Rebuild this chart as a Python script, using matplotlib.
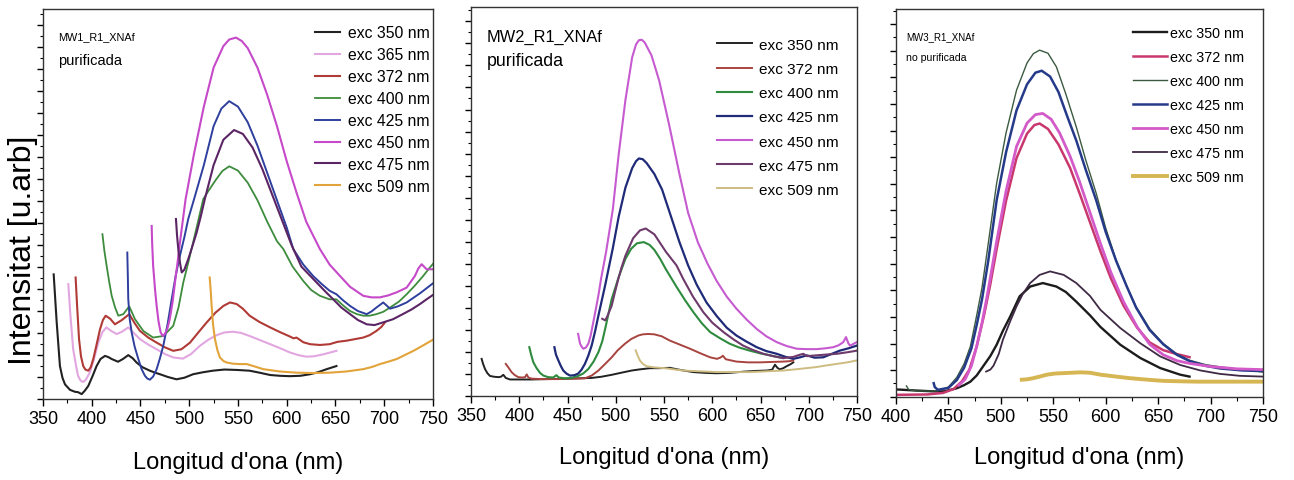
import matplotlib
matplotlib.use('Agg')
import matplotlib.pyplot as plt
from matplotlib.ticker import MultipleLocator

plt.rcParams['font.family'] = ['Liberation Sans', 'DejaVu Sans']

# --- MW1 (purificada) ---
p1_wl_350 = [361, 364, 367.4, 370, 372.6, 377.7, 382.8, 386, 389.7, 393, 396.5, 401, 405, 409, 413.6, 417, 420.5, 427, 432, 437.5, 442, 446, 452, 459.7, 465, 470, 478, 487, 495, 504, 514, 524, 536, 548.6, 562, 572, 583, 593, 603, 614, 624, 632, 641, 651]
p1_int_350 = [32, 20, 8.5, 5.5, 3.8, 2.4, 1.9, 1.8, 1.3, 2.2, 3.4, 6, 8.5, 10.3, 11.1, 10.8, 10.3, 9.6, 10.3, 11.3, 10.5, 9.4, 8.2, 7.3, 6.8, 6.4, 5.7, 5.1, 5.5, 6.4, 6.9, 7.3, 7.6, 7.5, 7.3, 6.8, 6.2, 6.0, 5.9, 6.0, 6.4, 6.9, 7.7, 8.5]
p1_wl_365 = [376, 378, 381, 384, 386, 388.5, 391, 394, 398, 402, 406.7, 411, 415, 420, 425.6, 431, 437.5, 443, 449.5, 458, 466.6, 475, 483.6, 493.6, 502, 511, 520, 528, 536, 545, 553, 562, 572, 583, 593, 603, 612, 620, 628, 637.5, 645, 651]
p1_int_365 = [29.5, 22, 12.8, 8.5, 6, 4.8, 4.4, 5, 6.8, 10, 14.5, 17.2, 18.4, 17.5, 16.7, 17.3, 18.4, 17, 15.4, 14, 12.8, 11.6, 10.7, 10.4, 11.6, 13.7, 15.3, 16.4, 17.1, 17.3, 17, 16.2, 15.2, 14.1, 13.1, 12, 11.3, 10.9, 11, 11.5, 12, 12.4]
p1_wl_372 = [383.5, 385, 387, 389, 391.3, 393.5, 396.5, 399, 401.6, 405, 408.5, 411.5, 414.3, 419, 423.8, 431, 438.5, 444, 449.5, 458, 466.6, 475, 483.6, 492, 500.8, 509, 518, 527, 535, 541.8, 548.6, 555, 562, 572, 583, 593, 603, 607, 610, 613, 617, 624, 634, 644, 652, 661.5, 670, 678.5, 685, 692, 697, 700.8]
p1_int_372 = [31.2, 24, 15.4, 11, 8.5, 7.6, 7.3, 8.2, 10.3, 14, 17.9, 20.3, 21.4, 20.6, 19.2, 20.3, 21.8, 19.5, 17.5, 15.8, 14.5, 13.3, 12.4, 12.8, 14.5, 17, 19.7, 22.2, 23.9, 24.8, 24.4, 23.2, 21.4, 19.8, 18.4, 17.2, 16.1, 15.6, 15.8, 15.3, 14.6, 14.1, 13.9, 14.1, 14.7, 15, 15.4, 15.8, 16.4, 17.5, 18.5, 19.7]
p1_wl_400 = [411, 413, 415.3, 418, 420.5, 424, 427.3, 432.4, 438.5, 444.4, 452.9, 463, 473.4, 483.6, 489, 493.9, 499, 504, 509, 514.4, 520, 527.5, 534, 541, 550, 560, 570, 580, 590, 596.5, 606, 617, 625, 634, 644, 651, 658, 665, 672, 678.5, 685, 692, 699, 706, 715, 723, 731, 740, 746, 751]
p1_int_400 = [42.3, 38, 34.2, 30, 26.5, 23.5, 21.4, 21.8, 23.8, 20.5, 17.5, 15.8, 16.2, 18.8, 23.5, 29.9, 35, 40.2, 45.5, 51.3, 53.5, 56.3, 58.5, 59.7, 58.6, 55.5, 51, 45.5, 40.5, 38.5, 34, 30.3, 28, 26.5, 25.6, 25.6, 24, 22.6, 21.8, 21.4, 21.4, 21.8, 22.4, 23.5, 25, 26.9, 29, 31.6, 33.5, 35]
p1_wl_425 = [436.5, 437, 437.5, 439, 441, 444, 447.8, 451, 454.6, 457, 459.7, 463, 466.6, 470, 473.4, 478, 482, 486, 490.5, 495, 499, 505, 515, 525, 533, 541, 550, 560, 570, 580, 590, 600, 606.7, 617, 627, 636, 644, 651, 658, 665, 673, 682, 687, 692, 699, 706, 714, 723, 737, 751]
p1_int_425 = [37.6, 32, 25.6, 20.5, 17.1, 13.5, 10.3, 7.8, 6, 5.3, 5, 5.8, 7.7, 10.5, 13.7, 19.5, 25.6, 31.5, 36.8, 41.5, 46.2, 51.3, 60, 70, 74.5, 76.4, 75, 71, 65, 58, 51, 44, 38.5, 34.5, 31.6, 29.5, 27.8, 26.9, 25.3, 23.9, 22.6, 21.8, 22.5, 23.5, 24.8, 23.2, 23.8, 24.8, 27.2, 29.9]
p1_wl_450 = [461.5, 462, 463, 465, 466.6, 468.5, 470.7, 473, 475, 477.5, 480, 483, 485.4, 488, 490.5, 496.3, 505, 515, 525, 535, 541, 548, 554, 560, 570, 580, 590, 600, 610, 620, 634, 644, 654.6, 665, 678.5, 687, 695.6, 704, 712.8, 723, 731.5, 735, 738.4, 743.5, 751]
p1_int_450 = [44.4, 40, 34.2, 28, 23.9, 20, 17.1, 16.2, 16.7, 18, 20.5, 25, 29.9, 35, 40.2, 51.3, 63, 75, 85, 90.5, 92.2, 92.7, 91.8, 90, 85, 78, 70, 61, 53, 45.5, 38.5, 34.5, 31.6, 28.8, 26.5, 26.1, 26.1, 26.6, 27.4, 28.6, 31.6, 33.5, 34.6, 33.3, 33.3]
p1_wl_475 = [486.4, 487.5, 488.8, 490.5, 492.3, 495, 499, 503, 507.6, 512, 516, 525, 535, 546, 555, 565, 575, 585, 595, 605, 615, 630.7, 640, 647.7, 656, 665, 673, 682, 690, 699, 709, 719, 728, 736.7, 744, 751]
p1_int_475 = [46.2, 42, 38.5, 35, 32.5, 33.2, 35.9, 39, 42.7, 47, 51.3, 60, 66.5, 69, 68, 64.5, 59, 52.5, 46, 39.5, 34, 29.9, 27.5, 25.6, 23.5, 21.8, 20.3, 19.2, 19, 19.7, 20.5, 21.8, 23, 24.4, 25.7, 26.9]
p1_wl_509 = [521, 522, 523, 524.5, 526.4, 529, 531.5, 535, 538.4, 545, 552, 559, 567, 576, 593, 610, 627, 644, 661, 678.5, 688, 695.6, 704, 712.8, 721, 730, 740, 751]
p1_int_509 = [31.2, 28, 23.9, 19, 15.4, 12.5, 10.7, 9.8, 9.4, 9.1, 9, 9, 8.4, 7.7, 7.1, 6.8, 6.7, 6.8, 7.1, 7.7, 8.3, 9, 9.6, 10.3, 11.3, 12.4, 13.8, 15.4]

# --- MW2 (purificada) ---
p2_wl_350 = [361, 362.5, 364.5, 367, 369.7, 374, 378.3, 381, 383.5, 386, 390.4, 400, 413, 430, 447.4, 462, 475, 485, 495.8, 505, 516.5, 525, 535.5, 545, 556, 568, 580.4, 592, 604.6, 618, 632, 645, 656.4, 662, 665, 667.5, 670, 673.5, 677, 681, 684]
p2_int_350 = [9.5, 8.2, 6.9, 5.8, 5.1, 4.9, 4.8, 4.9, 5.4, 4.6, 4.2, 4.2, 4.2, 4.3, 4.4, 4.5, 4.6, 4.9, 5.4, 5.9, 6.5, 6.8, 7.1, 7.1, 7.2, 6.6, 6.1, 5.9, 5.8, 5.9, 6.2, 6.4, 6.5, 6.7, 8, 7.2, 6.8, 7.1, 7.6, 8.1, 8.6]
p2_wl_372 = [386, 389, 392, 395.5, 399, 403, 406, 407.7, 409.5, 413, 425, 440, 455, 468, 475, 482, 489, 495.8, 502, 509.6, 516, 523.4, 528, 533.7, 540, 547.6, 556, 566, 577, 587, 597.7, 605, 609, 611, 614, 625, 637, 649.5, 661, 673.6, 680, 684]
p2_int_372 = [8.2, 7.2, 6.1, 5.3, 4.8, 4.7, 4.8, 5.5, 4.7, 4.4, 4.3, 4.3, 4.4, 4.5, 5.2, 6.5, 8.2, 9.9, 11.7, 13.4, 14.6, 15.5, 15.8, 15.9, 15.8, 15.3, 14.2, 13.2, 12.1, 11, 9.9, 9.5, 9.9, 10.3, 9.4, 8.8, 8.6, 8.6, 8.7, 8.8, 8.9, 9.1]
p2_wl_400 = [410.4, 412.5, 414.6, 418, 421.5, 425, 430, 435, 438.5, 441, 447.4, 454, 461, 466, 471.6, 477, 482, 486, 489, 495.8, 503, 510, 516, 522, 529, 535, 540, 546, 552, 563, 572, 580.4, 589, 597.7, 608, 618, 628, 639, 650, 660, 667, 673.6]
p2_int_400 = [12.5, 10.4, 8.6, 7.1, 5.9, 5.2, 4.8, 4.7, 5.3, 4.7, 4.5, 4.6, 5.1, 5.7, 6.9, 8.8, 11.2, 14, 17.2, 24.9, 30.5, 35.2, 37.8, 39.2, 39.5, 38.8, 37.5, 35.2, 32.5, 28, 24.5, 21.5, 18.7, 16.4, 14.8, 13.4, 12.4, 11.6, 10.9, 10.4, 10, 9.7]
p2_wl_425 = [436.4, 438, 440.5, 443, 445.6, 449, 452.6, 457, 461, 464.5, 468, 471.5, 475, 478.5, 482, 485.5, 489, 497, 503, 510, 517, 521, 524, 528, 532, 540, 548, 556, 566, 575, 584, 594, 604.6, 615, 625, 635, 646, 656, 666.8, 676, 684, 691, 698, 706, 715, 723, 732, 741, 749.7]
p2_int_425 = [12.5, 10.6, 9.1, 7.7, 6.5, 5.7, 5.2, 5.3, 5.7, 6.7, 8.2, 10.3, 12.9, 16.5, 20.6, 24.5, 28.4, 38, 46, 53.5, 58.5, 60.3, 61, 60.8, 59.8, 57, 53, 47, 39.5, 33.5, 28.5, 24, 20.5, 17.5, 15.5, 14, 12.5, 11.5, 10.8, 10, 9.5, 9.9, 10.4, 9.8, 9.9, 10.7, 11.6, 12.2, 12.9]
p2_wl_450 = [461, 462, 463, 465, 466.4, 469, 471.6, 474, 476.7, 479.5, 482, 484.7, 490, 497, 503, 510, 517, 521, 524, 527, 530, 537, 545, 555, 566, 575, 585, 595, 604.6, 615, 625, 636, 646, 656, 666.8, 677, 687.5, 698, 708, 717, 725.4, 731, 735.8, 738.6, 741, 742.7, 746, 749.7]
p2_int_450 = [15.9, 14.6, 13.4, 12.5, 12.1, 12.4, 13.4, 15.5, 18.9, 22.5, 25.8, 30, 37, 48, 62, 76, 87, 90.3, 91.4, 91.5, 90.8, 87.5, 81, 70, 57, 47, 39.5, 34, 29.5, 25.5, 22.4, 19.5, 17.2, 15.3, 13.8, 12.8, 12.1, 12, 12, 12.2, 12.5, 13, 13.8, 15.1, 13.5, 12.9, 13.3, 13.8]
p2_wl_475 = [486, 487.5, 489, 491, 493, 495.8, 499, 502.6, 506, 510, 518, 525, 531, 540, 552, 563, 570, 580, 590.7, 600, 611.5, 622, 632, 642, 653, 663, 673.6, 684, 690, 694.4, 698, 708, 718, 729, 740, 749.7]
p2_int_475 = [19.8, 19.6, 19.4, 20.3, 21.5, 23.2, 26.5, 30, 33, 36, 40.5, 42.5, 43, 41.5, 37, 33.5, 30, 25.5, 21.5, 18.8, 16.4, 14.5, 12.9, 11.8, 10.8, 10.2, 9.7, 10, 10.5, 10.8, 10.2, 10.4, 10.6, 10.8, 11.2, 11.6]
p2_wl_509 = [520.6, 522, 523.5, 525, 528, 532, 540, 551, 560, 570, 587, 604.6, 622, 639, 656, 673.6, 690, 708, 718, 729, 740, 749.7]
p2_int_509 = [11.7, 10.8, 9.9, 9.1, 8.2, 7.6, 7.3, 7.1, 6.8, 6.5, 6.3, 6.1, 6.1, 6.1, 6.3, 6.5, 6.9, 7.4, 7.8, 8.2, 8.6, 9.1]

# --- MW3 (no purificada) ---
p3_wl_350 = [400, 420, 436, 446, 458, 465, 471, 477, 483, 490, 496, 502, 509, 518, 528, 540, 553, 562, 572, 585, 595, 614, 633, 652, 671, 680]
p3_int_350 = [1.9, 1.6, 1.4, 1.4, 2.2, 3, 3.9, 5.5, 7.8, 10.5, 13.4, 17, 20.7, 25.9, 28.4, 29.3, 28.4, 27, 24.5, 21, 18, 13.4, 10, 7.4, 5.7, 5.2]
p3_wl_372 = [400, 430, 445, 455, 463, 470, 477, 484, 490, 496, 505, 515, 525, 532, 537, 545, 555, 566, 575, 585, 595, 605, 617, 630, 642, 655, 668, 680]
p3_int_372 = [0.5, 0.6, 1, 2, 4, 7, 13, 21, 29, 38, 50.5, 61.5, 67.8, 70, 70.4, 69, 65, 59, 52.5, 45, 37.5, 30.5, 23.5, 17.8, 14, 12, 11, 10.2]
p3_wl_400 = [410, 412, 415, 420, 440, 450, 458, 465, 471, 477, 482, 487, 496, 505, 515, 525, 531, 537, 545, 553, 562, 572, 581, 591, 600, 610, 620, 629, 642, 655, 668, 680, 695, 709, 730, 750]
p3_int_400 = [2.8, 1.9, 1.7, 1.5, 1.5, 2.5, 5, 8.5, 13, 21, 28, 37.5, 55, 68, 79, 86, 88.4, 89.3, 88.5, 85, 78, 69.5, 61, 52.4, 43.5, 35.2, 28.5, 23.2, 17.5, 13.7, 11, 9.4, 8.3, 7.7, 7, 6.4]
p3_wl_425 = [436, 437, 440, 450, 458, 465, 472, 477, 482, 488, 496, 505, 515, 525, 533, 539, 547, 555, 563, 572, 581, 591, 600, 610, 620, 629, 642, 655, 668, 680, 695, 709, 730, 750]
p3_int_425 = [3.5, 2.5, 1.8, 2.3, 4.3, 7.5, 12.5, 18.5, 25, 35, 50.6, 63, 73.8, 80.5, 83.5, 84, 82.5, 78.5, 72.5, 66, 58.5, 50.6, 42.5, 35, 28.5, 23, 17.2, 13.5, 10.8, 9.2, 8, 7.3, 6.8, 6.6]
p3_wl_450 = [460, 466, 472, 477, 482, 487, 496, 505, 515, 525, 533, 540, 548, 556, 566, 575, 585, 595, 605, 617, 630, 642, 655, 668, 680, 700, 725, 750]
p3_int_450 = [3, 4.5, 8, 13, 19, 26, 40, 53, 64.5, 70.5, 72.7, 73, 71.5, 68, 62, 55.5, 47.5, 39.5, 32, 24.5, 18, 13.5, 10.8, 9.3, 8.6, 7.8, 7.2, 7]
p3_wl_475 = [486, 490, 493, 498, 502, 509, 515, 521, 528, 537, 547, 560, 572, 585, 595, 614, 633, 652, 671, 690, 709, 728, 750]
p3_int_475 = [6.5, 7, 8, 11, 14.7, 19.5, 23.3, 26.5, 29.3, 31.4, 32.3, 31.4, 29.3, 26, 22.4, 17.7, 13.8, 10.4, 8.2, 6.8, 5.9, 5.4, 5.2]
p3_wl_509 = [520, 525, 531, 537, 544, 552, 560, 568, 576, 585, 595, 610, 623, 640, 655, 670, 687, 720, 750]
p3_int_509 = [4.4, 4.5, 4.8, 5.2, 5.7, 6, 6.1, 6.2, 6.3, 6.2, 5.7, 5.2, 4.8, 4.4, 4.1, 4, 3.9, 3.9, 3.9]

fig = plt.figure(figsize=(12.94, 4.81), dpi=100)
ax1 = fig.add_axes([0.0332, 0.168, 0.3014, 0.811])
ax2 = fig.add_axes([0.364, 0.175, 0.2983, 0.809])
ax3 = fig.add_axes([0.6924, 0.173, 0.2836, 0.807])

# panel 1
ax1.plot(p1_wl_350, p1_int_350, color='#222222', lw=1.5, label='exc 350 nm')
ax1.plot(p1_wl_365, p1_int_365, color='#e2a6e0', lw=1.5, label='exc 365 nm')
ax1.plot(p1_wl_372, p1_int_372, color='#b03a36', lw=1.5, label='exc 372 nm')
ax1.plot(p1_wl_400, p1_int_400, color='#3d8c3d', lw=1.3, label='exc 400 nm')
ax1.plot(p1_wl_425, p1_int_425, color='#2e3f9e', lw=1.4, label='exc 425 nm')
ax1.plot(p1_wl_450, p1_int_450, color='#c649c9', lw=1.5, label='exc 450 nm')
ax1.plot(p1_wl_475, p1_int_475, color='#5b2565', lw=1.5, label='exc 475 nm')
ax1.plot(p1_wl_509, p1_int_509, color='#e2a43a', lw=1.5, label='exc 509 nm')

# panel 2
ax2.plot(p2_wl_350, p2_int_350, color='#222222', lw=1.4, label='exc 350 nm')
ax2.plot(p2_wl_372, p2_int_372, color='#a8443f', lw=1.4, label='exc 372 nm')
ax2.plot(p2_wl_400, p2_int_400, color='#2e8b3e', lw=1.5, label='exc 400 nm')
ax2.plot(p2_wl_425, p2_int_425, color='#1f2a78', lw=1.6, label='exc 425 nm')
ax2.plot(p2_wl_450, p2_int_450, color='#c65ad0', lw=1.5, label='exc 450 nm')
ax2.plot(p2_wl_475, p2_int_475, color='#6e3a6b', lw=1.5, label='exc 475 nm')
ax2.plot(p2_wl_509, p2_int_509, color='#cdbb80', lw=1.4, label='exc 509 nm')

# panel 3
ax3.plot(p3_wl_350, p3_int_350, color='#1c1c1c', lw=1.7, label='exc 350 nm')
ax3.plot(p3_wl_372, p3_int_372, color='#c8386e', lw=1.8, label='exc 372 nm')
ax3.plot(p3_wl_400, p3_int_400, color='#3b5a40', lw=1.0, label='exc 400 nm')
ax3.plot(p3_wl_425, p3_int_425, color='#263a8a', lw=1.8, label='exc 425 nm')
ax3.plot(p3_wl_450, p3_int_450, color='#d35ac8', lw=2.0, label='exc 450 nm')
ax3.plot(p3_wl_475, p3_int_475, color='#3e2a44', lw=1.3, label='exc 475 nm')
ax3.plot(p3_wl_509, p3_int_509, color='#d6b653', lw=2.8, label='exc 509 nm')

ax1.set_xlim(350, 750)
ax2.set_xlim(350, 750)
ax3.set_xlim(400, 750)

for ax, step, lpad in [(ax1, 2.82, 17), (ax2, 2.83, 16), (ax3, 3.43, 15)]:
    ax.set_ylim(0, 100)
    ax.xaxis.set_major_locator(MultipleLocator(50))
    ax.xaxis.set_minor_locator(MultipleLocator(25))
    ax.yaxis.set_major_locator(MultipleLocator(step * 2))
    ax.yaxis.set_minor_locator(MultipleLocator(step))
    ax.tick_params(axis='x', which='major', direction='out', length=5, width=1, labelsize=13, pad=3)
    ax.tick_params(axis='x', which='minor', direction='out', length=3, width=0.8)
    ax.tick_params(axis='y', which='major', direction='out', length=4, width=1, labelleft=False)
    ax.tick_params(axis='y', which='minor', direction='out', length=2.5, width=0.8)
    for s in ax.spines.values():
        s.set_color('#333333')
        s.set_linewidth(1.0)
    ax.set_xlabel("Longitud d'ona (nm)", fontsize=17, labelpad=lpad)

ax1.set_ylabel('Intensitat [u.arb]', fontsize=23)
ax1.yaxis.set_label_coords(-0.012, 0.385)

ax1.text(0.038, 0.93, 'MW1_R1_XNAf', transform=ax1.transAxes, fontsize=7.8, va='center')
ax1.text(0.038, 0.87, 'purificada', transform=ax1.transAxes, fontsize=10.5, va='center')
ax2.text(0.041, 0.923, 'MW2_R1_XNAf', transform=ax2.transAxes, fontsize=11.8, va='center')
ax2.text(0.041, 0.861, 'purificada', transform=ax2.transAxes, fontsize=12.8, va='center')
ax3.text(0.027, 0.93, 'MW3_R1_XNAf', transform=ax3.transAxes, fontsize=7, va='center')
ax3.text(0.027, 0.876, 'no purificada', transform=ax3.transAxes, fontsize=7.6, va='center')

ax1.legend(loc='upper left', bbox_to_anchor=(0.697, 0.958), frameon=False, fontsize=11.3,
           handlelength=1.6, handletextpad=0.5, labelspacing=0.44, borderpad=0, borderaxespad=0)
ax2.legend(loc='upper left', bbox_to_anchor=(0.637, 0.92), frameon=False, fontsize=11.1,
           handlelength=2.3, handletextpad=0.4, labelspacing=0.66, borderpad=0, borderaxespad=0)
ax3.legend(loc='upper left', bbox_to_anchor=(0.646, 0.955), frameon=False, fontsize=10.3,
           handlelength=2.4, handletextpad=0.2, labelspacing=0.7, borderpad=0, borderaxespad=0)

fig.savefig('out.png', dpi=100)
